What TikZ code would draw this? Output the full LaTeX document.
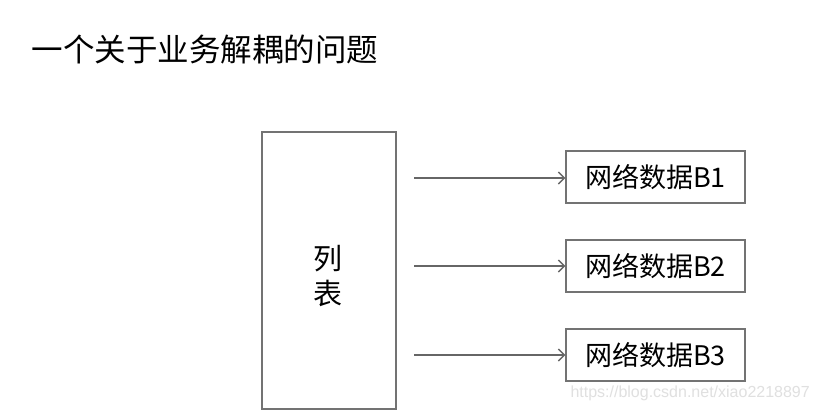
\documentclass[tikz,border=0pt]{standalone}
\usepackage{fontspec}
\setmainfont{Liberation Sans}
\newfontfamily\cjk{Noto Sans CJK SC}
\usetikzlibrary{arrows.meta}
\begin{document}
\begin{tikzpicture}[x=1pt,y=-1pt,
  frame/.style={draw=black!55,line width=1.2pt,fill=white,inner sep=0pt},
  link/.style={draw=black!60,line width=1.1pt,-{Straight Barb[length=6pt,width=12pt,line width=1.4pt]}},
  lbl/.style={font=\cjk\fontsize{27}{30}\selectfont,text=black}]
\useasboundingbox (0,0) rectangle (819,413);
\fill[white] (0,0) rectangle (819,413);
\node[anchor=west,font=\cjk\fontsize{31.5}{34}\selectfont] (title) at (28,50) {一个关于业务解耦的问题};
\node[frame,minimum width=134pt,minimum height=277pt] (list) at (329,270.5) {};
\node[lbl,align=center,font=\cjk\fontsize{29}{35}\selectfont] (listtxt) at (328,276) {列\\表};
\node[frame,minimum width=179pt,minimum height=52pt,lbl] (b1) at (655.5,177) {网络数据B1};
\node[frame,minimum width=179pt,minimum height=52pt,lbl] (b2) at (655.5,266) {网络数据B2};
\node[frame,minimum width=179pt,minimum height=52pt,lbl] (b3) at (655.5,355) {网络数据B3};
\coordinate (s1) at (414,178);
\coordinate (s2) at (414,266);
\coordinate (s3) at (414,355);
\draw[link] (s1) -- (b1.west |- s1);
\draw[link] (s2) -- (b2.west |- s2);
\draw[link] (s3) -- (b3.west |- s3);
\node[anchor=east,text=black!12,font=\fontsize{16}{18}\selectfont,inner sep=0pt] (wm) at (810,393) {https://blog.csdn.net/xiao2218897};
\end{tikzpicture}
\end{document}
